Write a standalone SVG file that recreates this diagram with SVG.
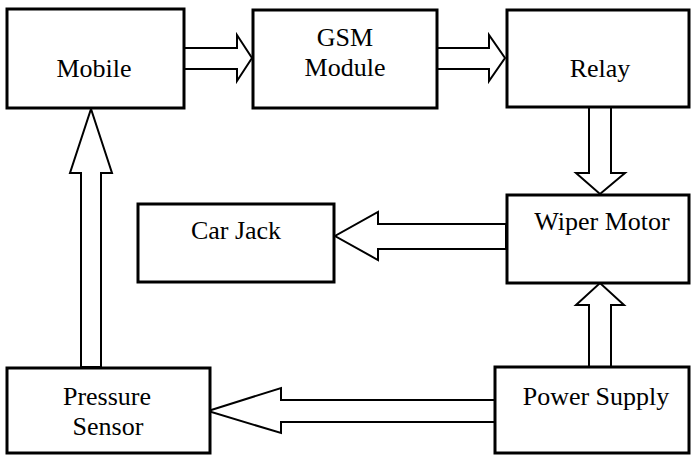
<svg xmlns="http://www.w3.org/2000/svg" width="691" height="455" viewBox="0 0 691 455">
<style>
.box{fill:#fff;stroke:#000;stroke-width:3}
.arr{fill:#fff;stroke:#000;stroke-width:2;stroke-linejoin:miter}
.t{font-family:'Liberation Serif','Times New Roman',serif;font-size:26px;fill:#000;text-anchor:middle}
</style>
<rect width="691" height="455" fill="#fff"/>
<g id="connectors">
<polygon class="arr" points="184,48 237,48 237,35 252,58 237,81 237,69 184,69"/>
<polygon class="arr" points="437,48 489,48 489,35 505,58 489,81 489,69 437,69"/>
<polygon class="arr" points="589,107 611,107 611,173 625,173 600,194 576,173 589,173"/>
<polygon class="arr" points="506,224 378,224 378,212 335,236 378,260 378,249 506,249"/>
<polygon class="arr" points="589,367 589,305 576,305 600,283 624,305 611,305 611,367"/>
<polygon class="arr" points="495,400 281,400 281,388 208,411 281,433 281,422 495,422"/>
<polygon class="arr" points="81,367 81,173 70,173 91,109 112,173 101,173 101,367"/>
</g>
<g id="mobile"><rect class="box" x="7" y="9" width="177" height="99"/><text class="t" x="94" y="77">Mobile</text></g>
<g id="gsm"><rect class="box" x="253" y="10" width="184" height="98"/><text class="t" x="345" y="46">GSM</text><text class="t" x="345" y="76">Module</text></g>
<g id="relay"><rect class="box" x="507" y="10" width="182" height="97"/><text class="t" x="600" y="77">Relay</text></g>
<g id="wiper"><rect class="box" x="507" y="195" width="182" height="88"/><text class="t" x="602" y="230">Wiper Motor</text></g>
<g id="carjack"><rect class="box" x="138" y="204" width="196" height="78"/><text class="t" x="236" y="239">Car Jack</text></g>
<g id="power"><rect class="box" x="495" y="367" width="194" height="86"/><text class="t" x="596" y="405">Power Supply</text></g>
<g id="pressure"><rect class="box" x="7" y="368" width="203" height="85"/><text class="t" x="107" y="405">Pressure</text><text class="t" x="108" y="435">Sensor</text></g>
</svg>
